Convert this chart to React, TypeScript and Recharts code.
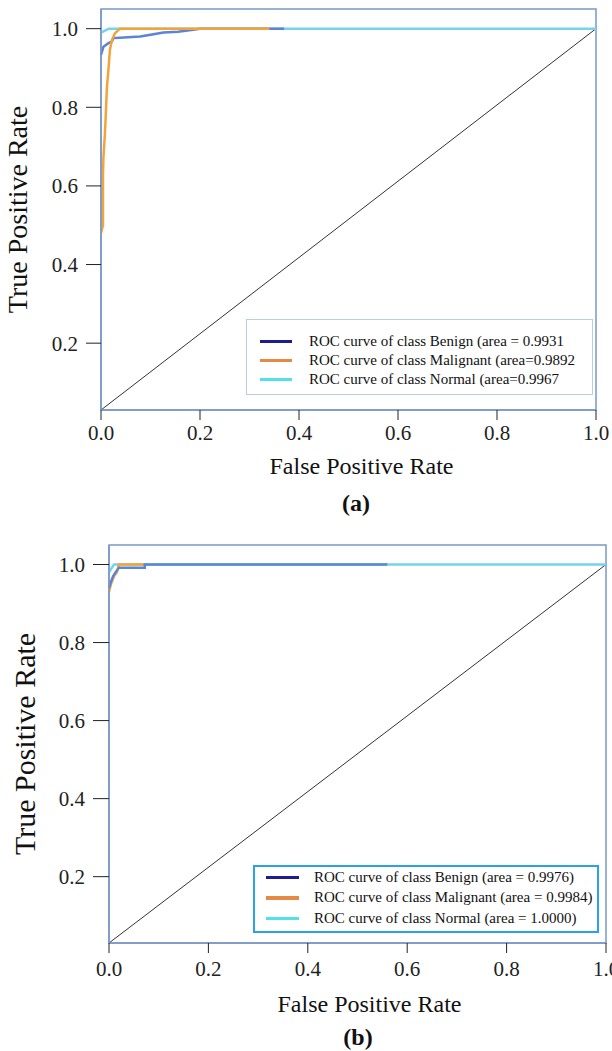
import React from 'react';
import { LineChart, Line, XAxis, YAxis, ReferenceLine, ReferenceArea, Legend } from 'recharts';

const SERIF = '"Liberation Serif", "Times New Roman", serif';

// axis ticks (shared by both panels)
const fprTicks = [0, 0.2, 0.4, 0.6, 0.8, 1.0];
const tprTicks = [0.2, 0.4, 0.6, 0.8, 1.0];
const tprDomain = [0.03, 1.05];
// diagonal runs from the bottom-left corner of the frame up to (1, 1)
const chanceLine = [{ x: 0, y: 0.03 }, { x: 1, y: 1 }];

// panel (a) curves, [fpr, tpr]
const benignA = [
  [0, 0.933], [0.005, 0.954], [0.015, 0.963], [0.022, 0.967], [0.025, 0.976], [0.038, 0.977],
  [0.079, 0.98], [0.106, 0.986], [0.126, 0.99], [0.156, 0.992], [0.186, 0.997], [0.2, 1.0], [0.37, 1.0],
];
const malignantA = [
  [0, 0.48], [0.004, 0.5], [0.004, 0.63], [0.005, 0.674], [0.008, 0.734], [0.012, 0.852], [0.015, 0.895],
  [0.018, 0.946], [0.022, 0.971], [0.028, 0.988], [0.038, 1.0], [0.34, 1.0],
];
const normalA = [[0, 0.99], [0.008, 0.995], [0.016, 1.0], [1, 1]];
const legendA = [
  'ROC curve of class Benign (area = 0.9931',
  'ROC curve of class Malignant (area=0.9892',
  'ROC curve of class Normal (area=0.9967',
];

// panel (b) curves
const benignB = [
  [0, 0.94], [0.004, 0.956], [0.008, 0.969], [0.012, 0.978], [0.016, 0.985], [0.02, 0.992],
  [0.072, 0.992], [0.072, 1.0], [0.56, 1.0],
];
const malignantB = [[0, 0.93], [0.004, 0.95], [0.01, 0.97], [0.016, 0.98], [0.02, 1.0], [0.07, 1.0]];
const normalB = [[0, 0.98], [0.005, 0.99], [0.01, 1.0], [1, 1]];
const legendB = [
  'ROC curve of class Benign (area = 0.9976)',
  'ROC curve of class Malignant (area = 0.9984)',
  'ROC curve of class Normal (area = 1.0000)',
];

const lineColors = { benign: '#5b84d6', malignant: '#f3a33a', normal: '#74d5ea' };
const legendColors = ['#1f1c8f', '#e48a45', '#52e0ea'];
const frameColor = '#7898c6';

const toPoints = (pairs: number[][]) => pairs.map(([x, y]) => ({ x, y }));
const fmt = (v: number) => v.toFixed(1);

const LegendBox = ({ labels, box }: any) => (
  <div
    style={{
      boxSizing: 'border-box',
      width: box.width,
      height: box.height,
      border: box.border,
      background: '#fff',
      paddingTop: box.padTop,
      fontFamily: SERIF,
      fontSize: 15,
      color: '#111',
    }}
  >
    {labels.map((label: string, i: number) => (
      <div key={label} style={{ display: 'flex', alignItems: 'center', height: box.rowH }}>
        <div
          style={{
            width: box.lineW,
            height: 3.5,
            marginLeft: box.lineX,
            marginRight: box.gap,
            background: legendColors[i],
          }}
        />
        <span style={{ whiteSpace: 'nowrap' }}>{label}</span>
      </div>
    ))}
  </div>
);

const RocPanel = ({ cfg, curves, labels }: any) => {
  const tick = { fontSize: 21, fontFamily: SERIF, fill: '#222' };
  return (
    <LineChart width={612} height={cfg.height} margin={cfg.margin}>
      <XAxis
        type="number"
        dataKey="x"
        domain={[0, 1]}
        ticks={fprTicks}
        interval={0}
        tickFormatter={fmt}
        height={cfg.xAxisHeight}
        tickSize={10}
        tickMargin={cfg.xTickMargin}
        axisLine={{ stroke: frameColor, strokeWidth: 1.5 }}
        tickLine={{ stroke: '#222' }}
        tick={tick}
        label={{
          value: 'False Positive Rate',
          position: 'insideBottom',
          offset: 0,
          dx: cfg.xLabelDx,
          style: { fontFamily: SERIF, fontSize: 24, fill: '#111' },
        }}
      />
      <YAxis
        type="number"
        dataKey="y"
        domain={tprDomain}
        ticks={tprTicks}
        interval={0}
        tickFormatter={fmt}
        width={cfg.yAxisWidth}
        tickSize={cfg.yTickSize}
        tickMargin={8}
        axisLine={{ stroke: frameColor, strokeWidth: 1.5 }}
        tickLine={{ stroke: '#222' }}
        tick={tick}
        label={{
          value: 'True Positive Rate',
          angle: -90,
          position: 'insideLeft',
          offset: cfg.yLabelOffset,
          style: { textAnchor: 'middle', fontFamily: SERIF, fontSize: cfg.yLabelSize, fill: '#111' },
        }}
      />
      <ReferenceArea
        x1={0}
        x2={1}
        y1={tprDomain[0]}
        y2={tprDomain[1]}
        fill="none"
        fillOpacity={0}
        stroke={frameColor}
        strokeWidth={1.5}
        ifOverflow="visible"
      />
      <ReferenceLine segment={chanceLine} stroke="#333" strokeWidth={1} ifOverflow="hidden" />
      {curves.map((c: any) => (
        <Line
          key={c.name}
          name={c.name}
          data={toPoints(c.points)}
          dataKey="y"
          type="linear"
          stroke={c.color}
          strokeWidth={2.5}
          dot={false}
          activeDot={false}
          isAnimationActive={false}
        />
      ))}
      <Legend
        layout="vertical"
        align="center"
        verticalAlign="middle"
        wrapperStyle={{ left: cfg.legend.left, top: cfg.legend.top, width: cfg.legend.width, height: cfg.legend.height }}
        content={() => <LegendBox labels={labels} box={cfg.legend} />}
      />
    </LineChart>
  );
};

const panelA = {
  height: 480,
  margin: { top: 9, right: 16, bottom: 6, left: 0 },
  yAxisWidth: 101,
  xAxisHeight: 64,
  xTickMargin: 5,
  yTickSize: 15,
  xLabelDx: 13,
  yLabelOffset: 17,
  yLabelSize: 28,
  legend: { left: 246, top: 319, width: 347, height: 76, border: '1.5px solid #b7d0da', padTop: 12, rowH: 19, lineX: 13, lineW: 32, gap: 17 },
};

const panelB = {
  height: 488,
  margin: { top: 15, right: 6, bottom: 6, left: 0 },
  yAxisWidth: 109,
  xAxisHeight: 69,
  xTickMargin: 8,
  yTickSize: 16,
  xLabelDx: 12,
  yLabelOffset: 24,
  yLabelSize: 30,
  legend: { left: 253, top: 335, width: 346, height: 68, border: '2px solid #2ba2e6', padTop: 0, rowH: 20.5, lineX: 11, lineW: 33, gap: 15 },
};

const Caption = ({ text, x, y }: any) => (
  <div
    style={{
      position: 'absolute',
      left: x - 50,
      top: y - 12,
      width: 100,
      lineHeight: '24px',
      textAlign: 'center',
      fontFamily: SERIF,
      fontSize: 24,
      fontWeight: 'bold',
      color: '#111',
    }}
  >
    {text}
  </div>
);

export default function App() {
  return (
    <div style={{ position: 'absolute', left: 0, top: 0, width: 612, height: 1051, background: '#fff' }}>
      <div style={{ position: 'absolute', left: 0, top: 0 }}>
        <RocPanel
          cfg={panelA}
          labels={legendA}
          curves={[
            { name: 'Normal', points: normalA, color: lineColors.normal },
            { name: 'Benign', points: benignA, color: lineColors.benign },
            { name: 'Malignant', points: malignantA, color: lineColors.malignant },
          ]}
        />
      </div>
      <div style={{ position: 'absolute', left: 0, top: 530 }}>
        <RocPanel
          cfg={panelB}
          labels={legendB}
          curves={[
            { name: 'Normal', points: normalB, color: lineColors.normal },
            { name: 'Malignant', points: malignantB, color: lineColors.malignant },
            { name: 'Benign', points: benignB, color: lineColors.benign },
          ]}
        />
      </div>
      <Caption text="(a)" x={356} y={503} />
      <Caption text="(b)" x={358} y={1037} />
    </div>
  );
}
